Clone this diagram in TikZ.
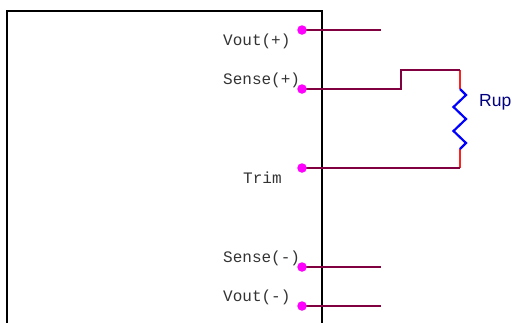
\documentclass[tikz,border=0pt]{standalone}
\usepackage{fontspec}
\setmainfont{Liberation Sans}
\newfontfamily\pinfont{Liberation Mono}
\definecolor{wirecol}{HTML}{800040}
\definecolor{legcol}{HTML}{FF2020}
\definecolor{labcol}{HTML}{000080}
\definecolor{dotcol}{HTML}{FF00FF}
\tikzset{x=1pt,y=-1pt,
  pindot/.style={circle,fill=dotcol,inner sep=0pt,minimum size=9.5pt},
  pinlabel/.style={font=\pinfont\fontsize{16}{16}\selectfont,text=black!80,anchor=base west,inner sep=0pt},
  wire/.style={draw=wirecol,line width=2.2pt,line cap=butt,line join=miter},
  leg/.style={draw=legcol,line width=2.2pt},
  zig/.style={draw=blue,line width=2.2pt,line join=miter},
  boxline/.style={draw=black,line width=2.1pt}}
\begin{document}
\begin{tikzpicture}
\useasboundingbox (0,0) rectangle (512,322);
\draw[boxline] (7,323) -- (7,11) -- (322,11) -- (322,323);
\coordinate (voutpEnd) at (381,30);
\coordinate (sensenEnd) at (381,267);
\coordinate (voutnEnd) at (381,306);
\coordinate (c1) at (401,89);
\coordinate (c2) at (401,70);
\coordinate (c3) at (460,70);
\coordinate (c4) at (460,168);
\coordinate (rTop) at (460,89);
\coordinate (rBot) at (460,149);
\draw[leg] (c3) -- (rTop);
\draw[leg] (rBot) -- (c4);
\draw[wire] (302,30) coordinate (voutpC) -- (voutpEnd);
\draw[wire] (302,267) coordinate (sensenC) -- (sensenEnd);
\draw[wire] (302,306) coordinate (voutnC) -- (voutnEnd);
\draw[wire] (302,89) coordinate (sensepC) -- (c1) -- (c2) -- (c3);
\draw[wire] (302,168) coordinate (trimC) -- (c4);
\node[pindot] (voutp) at (voutpC) {};
\node[pindot] (sensep) at (sensepC) {};
\node[pindot] (trim) at (trimC) {};
\node[pindot] (sensen) at (sensenC) {};
\node[pindot] (voutn) at (voutnC) {};
\draw[zig] (rTop) -- (466,95) -- (453.5,107) -- (466,119) -- (453.5,131) -- (466,143) -- (rBot);
\node[pinlabel] (l1) at (223,45) {Vout(+)};
\node[pinlabel] (l2) at (223,84) {Sense(+)};
\node[pinlabel] (l3) at (243,183) {Trim};
\node[pinlabel] (l4) at (223,262) {Sense(-)};
\node[pinlabel] (l5) at (223,301) {Vout(-)};
\node[font=\fontsize{17.5}{18}\selectfont,text=labcol,anchor=base west,inner sep=0pt] (rup) at (479,106) {Rup};
\end{tikzpicture}
\end{document}
